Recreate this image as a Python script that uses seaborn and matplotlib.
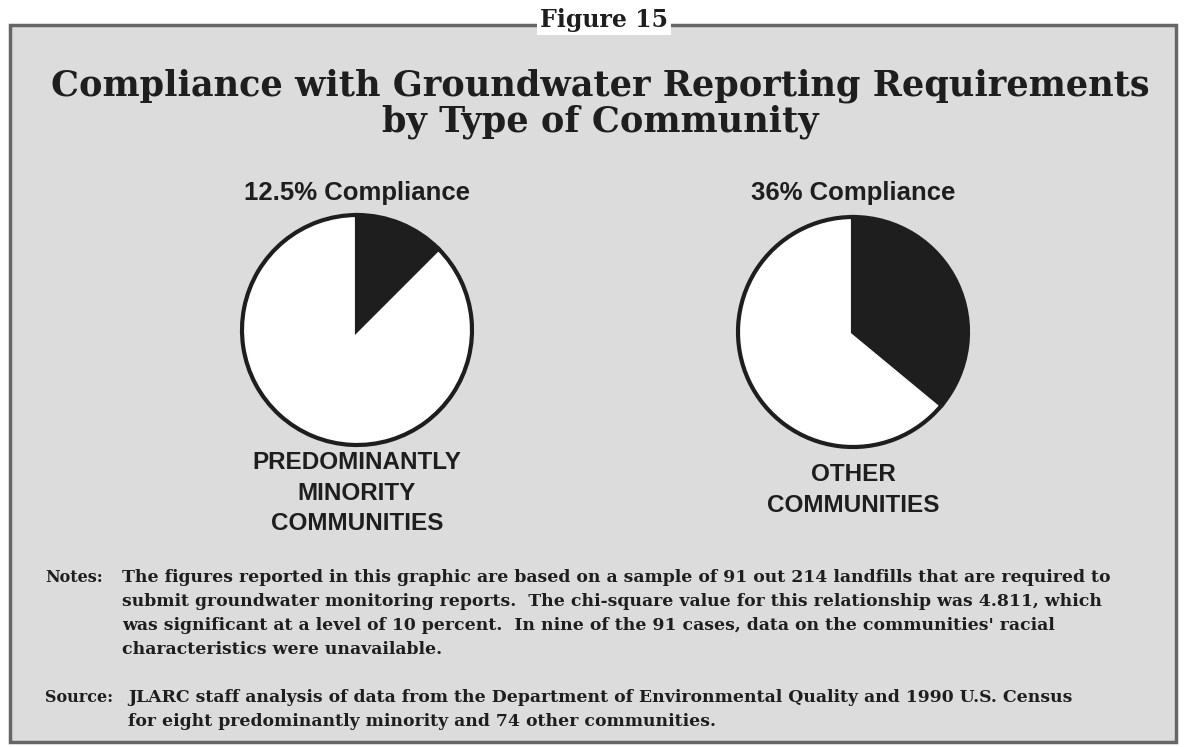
import matplotlib
matplotlib.use('Agg')
import matplotlib.pyplot as plt
from matplotlib.patches import Rectangle
import seaborn as sns

# data
groups = ['PREDOMINANTLY\nMINORITY\nCOMMUNITIES', 'OTHER\nCOMMUNITIES']
compliance = [12.5, 36]
compliance_labels = ['12.5% Compliance', '36% Compliance']

fig_title = 'Figure 15'
title = 'Compliance with Groundwater Reporting Requirements\nby Type of Community'
notes_lines = [
    "The figures reported in this graphic are based on a sample of 91 out 214 landfills that are required to",
    "submit groundwater monitoring reports.  The chi-square value for this relationship was 4.811, which",
    "was significant at a level of 10 percent.  In nine of the 91 cases, data on the communities' racial",
    "characteristics were unavailable.",
]
source_lines = [
    "JLARC staff analysis of data from the Department of Environmental Quality and 1990 U.S. Census",
    "for eight predominantly minority and 74 other communities.",
]

sns.set_theme(style='white')
plt.rcParams['font.family'] = ['DejaVu Sans']

W, H = 1184, 747
fig = plt.figure(figsize=(W / 100, H / 100), dpi=100)
fig.patch.set_facecolor('white')

def fx(x): return x / W
def fy(y): return 1 - y / H

ink = '#1e1e1e'
bg = '#dcdcdc'

# panel background + frame
fig.add_artist(Rectangle((fx(10), fy(742)), fx(1166), (742 - 25) / H,
                         transform=fig.transFigure, facecolor=bg,
                         edgecolor='#666666', linewidth=2.5, zorder=0))
fig.text(fx(604), fy(20), fig_title, ha='center', va='center',
         fontsize=17, fontweight='bold', family='DejaVu Serif', color=ink,
         bbox=dict(facecolor='white', edgecolor='none', pad=2))

fig.text(fx(600), fy(104), title, ha='center', va='center',
         fontsize=25.3, fontweight='bold', family='DejaVu Serif', color=ink,
         linespacing=1.05)

centers = [(357, 330), (853, 332)]
r = 115
label_y = [493, 490]
for (cx, cy), pct, lab, grp, ly in zip(centers, compliance, compliance_labels, groups, label_y):
    ax = fig.add_axes([fx(cx - r - 4), fy(cy + r + 4), (2 * r + 8) / W, (2 * r + 8) / H])
    ax.pie([pct, 100 - pct], colors=[ink, 'white'], startangle=90,
           counterclock=False, radius=r / (r + 4),
           wedgeprops=dict(edgecolor=ink, linewidth=3))
    ax.set_xlim(-1, 1)
    ax.set_ylim(-1, 1)
    ax.set_aspect('auto')
    ax.axis('off')
    fig.text(fx(cx), fy(193), lab, ha='center', va='center', fontsize=18.5,
             fontweight='bold', family='Liberation Sans', color=ink)
    fig.text(fx(cx), fy(ly), grp, ha='center', va='center', fontsize=17.5,
             fontweight='bold', family='Liberation Sans', color=ink,
             linespacing=1.4)

note_kw = dict(ha='left', va='center', fontsize=12.4, fontweight='bold',
               family='DejaVu Serif', color=ink)
head_kw = dict(note_kw, fontsize=11.5)
fig.text(fx(45), fy(577), 'Notes:', **head_kw)
for i, line in enumerate(notes_lines):
    fig.text(fx(122), fy(577 + 24 * i), line, **note_kw)
fig.text(fx(45), fy(698), 'Source:', **head_kw)
for i, line in enumerate(source_lines):
    fig.text(fx(128), fy(698 + 24 * i), line, **note_kw)

fig.savefig('out.png', dpi=100, facecolor=fig.get_facecolor())
